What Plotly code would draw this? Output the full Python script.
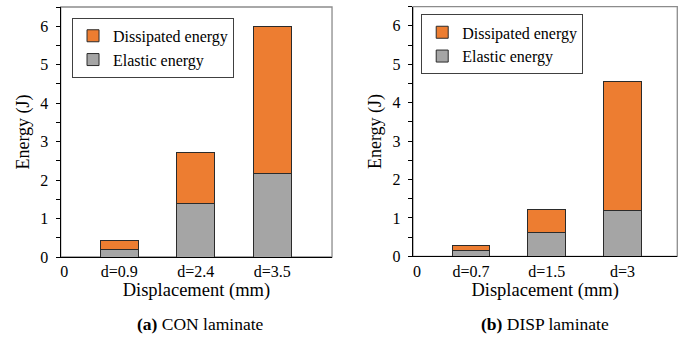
import plotly.graph_objects as go

# Energy split per displacement level, CON laminate
con_labels = ["d=0.9", "d=2.4", "d=3.5"]
con_elastic = [0.20, 1.40, 2.18]
con_dissipated = [0.22, 1.32, 3.82]

# Energy split per displacement level, DISP laminate
disp_labels = ["d=0.7", "d=1.5", "d=3"]
disp_elastic = [0.16, 0.62, 1.20]
disp_dissipated = [0.11, 0.60, 3.35]

y_ticks = [0, 1, 2, 3, 4, 5, 6]
positions = [1, 2, 3]

ORANGE = "#ED7D31"
GREY = "#A5A5A5"
EDGE = "#2b2b2b"
FONT = "Liberation Serif, Times New Roman, serif"

fig = go.Figure()


def add_panel(xa, ya, legend, elastic, dissipated):
    fig.add_trace(go.Bar(
        x=positions, y=elastic, name="Elastic energy", width=0.5,
        marker=dict(color=GREY, line=dict(color=EDGE, width=1)),
        xaxis=xa, yaxis=ya, legend=legend, legendrank=2,
    ))
    fig.add_trace(go.Bar(
        x=positions, y=dissipated, name="Dissipated energy", width=0.5,
        marker=dict(color=ORANGE, line=dict(color=EDGE, width=1)),
        xaxis=xa, yaxis=ya, legend=legend, legendrank=1,
    ))


add_panel("x", "y", "legend", con_elastic, con_dissipated)
add_panel("x2", "y2", "legend2", disp_elastic, disp_dissipated)

axis_font = dict(family=FONT, size=16, color="black")
title_font = dict(family=FONT, size=18.5, color="black")


def xaxis(domain, zero_pos, labels, rng, anchor):
    return dict(
        domain=domain, anchor=anchor, range=rng, automargin=False,
        tickvals=[zero_pos] + positions, ticktext=["0"] + labels,
        showgrid=False, zeroline=False, ticks="",
        showline=True, linecolor="black", linewidth=1.3,
        tickfont=axis_font,
        title=dict(text="Displacement (mm)", font=title_font, standoff=3),
    )


def yaxis(domain, anchor):
    return dict(
        domain=domain, anchor=anchor, range=[0, 6.5], automargin=False,
        tickvals=y_ticks, showgrid=False, zeroline=False,
        ticks="outside", ticklen=4, tickcolor="black", tickwidth=1,
        minor=dict(dtick=0.5, ticks="outside", ticklen=4, tickcolor="black", tickwidth=1),
        showline=True, linecolor="black", linewidth=1.3,
        tickfont=axis_font, ticklabelstandoff=4,
        title=dict(text="Energy (J)", font=dict(family=FONT, size=18, color="black"), standoff=6),
    )


legend_common = dict(
    font=dict(family=FONT, size=16, color="black"),
    bgcolor="white", bordercolor="#404040", borderwidth=1,
    traceorder="normal", tracegroupgap=4,
    xanchor="left", yanchor="top", itemwidth=30,
)

fig.update_layout(
    width=686, height=350,
    margin=dict(l=0, r=0, t=0, b=0, autoexpand=False),
    paper_bgcolor="white", plot_bgcolor="white",
    barmode="stack",
    font=dict(family=FONT, color="black"),
    xaxis=xaxis([0.0885, 0.484], 0.28, con_labels, [0.234, 3.78], "y"),
    yaxis=yaxis([0.2657, 0.98], "x"),
    xaxis2=xaxis([0.602, 0.9873], 0.287, disp_labels, [0.234, 3.725], "y2"),
    yaxis2=yaxis([0.2677, 0.981], "x2"),
    legend=dict(x=0.105, y=0.949, **legend_common),
    legend2=dict(x=0.614, y=0.959, **legend_common),
    showlegend=True,
)

# light frame around each plotting area (top and right edges)
for xr, yr in (("x domain", "y domain"), ("x2 domain", "y2 domain")):
    fig.add_shape(type="rect", xref=xr, yref=yr, x0=0, x1=1, y0=0, y1=1,
                  line=dict(color="#8c8c8c", width=1.3), layer="below")

# panel captions
for x, tag, text in ((200 / 686, "(a)", "CON laminate"), (545 / 686, "(b)", "DISP laminate")):
    fig.add_annotation(
        x=x, y=1 - 324 / 350, xref="paper", yref="paper",
        text=f"<b>{tag}</b> {text}", showarrow=False,
        font=dict(family=FONT, size=17.5, color="black"),
        xanchor="center", yanchor="middle",
    )

fig.write_html("out.html")
